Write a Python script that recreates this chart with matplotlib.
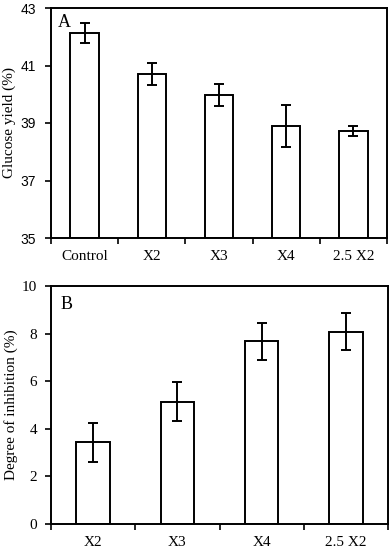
import matplotlib
matplotlib.use("Agg")
import matplotlib.pyplot as plt
import numpy as np

cats_a = ["Control", "X2", "X3", "X4", "2.5 X2"]
yield_vals = [42.13, 40.70, 39.97, 38.90, 38.72]
yield_err = [0.36, 0.37, 0.37, 0.72, 0.18]

cats_b = ["X2", "X3", "X4", "2.5 X2"]
inhib_vals = [3.43, 5.14, 7.68, 8.08]
inhib_err = [0.82, 0.81, 0.78, 0.78]

serif = "Liberation Serif"
sans = "Liberation Sans"

fig = plt.figure(figsize=(3.91, 5.5), dpi=100)

axA = fig.add_axes([51/391, 1-238/550, (387-51)/391, (238-8)/550])
axB = fig.add_axes([51/391, 1-524/550, (388-51)/391, (524-286)/550])

def style(ax, cats, vals, errs, ylim, yticks, ylabel, label, lpos,
          ytick_font, ytick_size, ypad, bw):
    x = np.arange(len(cats))
    ax.bar(x, [v - ylim[0] for v in vals], bottom=ylim[0], width=bw,
           color="white", edgecolor="black", linewidth=1.4, zorder=2)
    ax.errorbar(x, vals, yerr=errs, fmt="none", ecolor="black",
                elinewidth=1.4, capsize=3.5, capthick=1.4, zorder=3)
    ax.set_xlim(-0.5, len(cats) - 0.5)
    ax.set_ylim(*ylim)
    ax.set_yticks(yticks)
    ax.set_yticklabels([str(t) for t in yticks], fontfamily=ytick_font,
                       fontsize=ytick_size)
    ax.set_xticks(x)
    ax.set_xticklabels(cats, fontfamily=serif, fontsize=11)
    ax.set_xticks(np.arange(len(cats) + 1) - 0.5, minor=True)
    ax.tick_params(axis="x", which="major", length=0, pad=9)
    ax.tick_params(axis="x", which="minor", length=4, width=1.2, direction="out")
    ax.tick_params(axis="y", which="major", length=4, width=1.2, direction="out",
                   pad=ypad)
    for s in ax.spines.values():
        s.set_linewidth(1.4)
    ax.set_ylabel(ylabel, fontfamily=serif, fontsize=11, labelpad=3)
    ax.text(lpos[0], lpos[1], label, transform=ax.transAxes, ha="left", va="top",
            fontfamily=serif, fontsize=13)

style(axA, cats_a, yield_vals, yield_err, (35, 43), [35, 37, 39, 41, 43],
      "Glucose yield (%)", "A", (0.021, 0.975), sans, 10, 7, 0.42)
style(axB, cats_b, inhib_vals, inhib_err, (0, 10), [0, 2, 4, 6, 8, 10],
      "Degree of inhibition (%)", "B", (0.027, 0.96), serif, 11, 6, 0.40)

fig.savefig("out.png", dpi=100)
